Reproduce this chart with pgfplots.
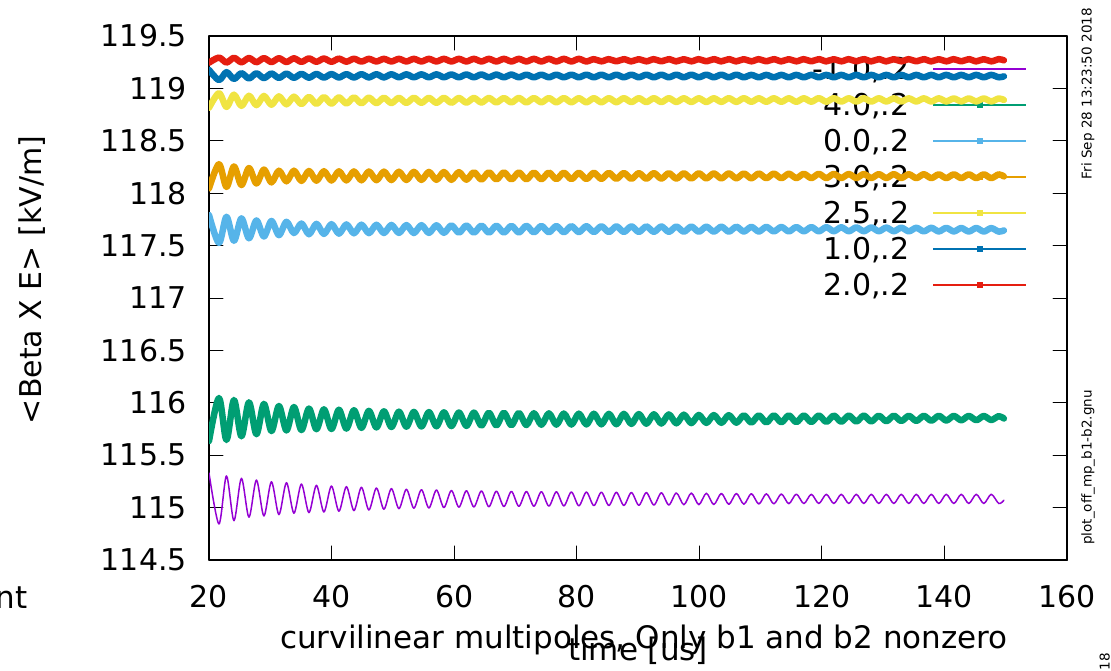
\documentclass[border=0pt]{standalone}
\usepackage{fontspec}
\setmainfont{DejaVu Sans}
\usepackage{pgfplots}
\usepackage{pgfplotstable}
\pgfplotsset{compat=1.18}
\definecolor{cA}{HTML}{9400D3}
\definecolor{cB}{HTML}{009E73}
\definecolor{cC}{HTML}{56B4E9}
\definecolor{cD}{HTML}{E69F00}
\definecolor{cE}{HTML}{F0E442}
\definecolor{cF}{HTML}{0072B2}
\definecolor{cG}{HTML}{E51E10}
\pgfplotstableread{
x pur grn lbl org yel blu red
20.00 115.330 115.635 117.792 118.045 118.815 119.177 119.245
21.62 114.844 116.046 117.525 118.277 118.954 119.080 119.294
22.85 115.302 115.645 117.775 118.060 118.824 119.155 119.247
24.07 114.875 116.027 117.546 118.255 118.940 119.090 119.292
25.29 115.280 115.680 117.760 118.078 118.833 119.145 119.249
26.52 114.908 116.005 117.570 118.240 118.930 119.095 119.290
27.74 115.263 115.700 117.740 118.093 118.840 119.144 119.250
28.96 114.920 115.990 117.587 118.225 118.928 119.098 119.289
30.19 115.247 115.730 117.735 118.103 118.844 119.142 119.251
31.41 114.933 115.970 117.600 118.215 118.924 119.100 119.288
32.64 115.238 115.736 117.727 118.113 118.848 119.141 119.252
33.86 114.946 115.960 117.620 118.215 118.921 119.101 119.287
35.08 115.225 115.740 117.711 118.117 118.850 119.139 119.253
36.31 114.952 115.945 117.608 118.212 118.919 119.102 119.286
37.53 115.213 115.748 117.708 118.119 118.852 119.138 119.254
38.75 114.958 115.938 117.611 118.210 118.917 119.103 119.285
39.98 115.206 115.750 117.705 118.121 118.854 119.137 119.254
41.20 114.965 115.934 117.614 118.209 118.915 119.104 119.284
42.42 115.200 115.754 117.702 118.122 118.856 119.136 119.255
43.65 114.971 115.929 117.617 118.208 118.914 119.104 119.283
44.87 115.194 115.761 117.700 118.123 118.858 119.136 119.256
46.09 114.977 115.923 117.619 118.207 118.912 119.105 119.282
47.32 115.187 115.765 117.699 118.124 118.859 119.135 119.257
48.54 114.984 115.919 117.620 118.206 118.911 119.105 119.282
49.76 115.181 115.769 117.697 118.125 118.860 119.135 119.257
50.99 114.990 115.915 117.621 118.205 118.910 119.106 119.282
52.21 115.175 115.772 117.696 118.126 118.861 119.134 119.257
53.43 114.994 115.913 117.620 118.204 118.911 119.106 119.282
54.66 115.171 115.774 117.695 118.127 118.862 119.134 119.257
55.88 114.996 115.911 117.621 118.203 118.910 119.106 119.282
57.11 115.168 115.776 117.694 118.128 118.862 119.134 119.257
58.33 115.000 115.909 117.622 118.202 118.910 119.106 119.282
59.55 115.163 115.778 117.693 118.128 118.863 119.133 119.257
60.78 115.004 115.907 117.623 118.201 118.909 119.106 119.282
62.00 115.161 115.780 117.692 118.129 118.864 119.133 119.257
63.22 115.006 115.906 117.623 118.200 118.909 119.106 119.282
64.45 115.159 115.783 117.691 118.130 118.865 119.133 119.257
65.67 115.008 115.904 117.623 118.200 118.909 119.106 119.282
66.89 115.157 115.785 117.690 118.131 118.866 119.132 119.257
68.12 115.010 115.904 117.624 118.199 118.908 119.106 119.282
69.34 115.155 115.786 117.689 118.131 118.866 119.132 119.257
70.56 115.012 115.902 117.625 118.198 118.909 119.106 119.282
71.79 115.154 115.788 117.689 118.132 118.866 119.131 119.257
73.01 115.013 115.901 117.626 118.197 118.908 119.106 119.282
74.23 115.152 115.790 117.688 118.133 118.867 119.131 119.257
75.46 115.014 115.900 117.627 118.197 118.908 119.106 119.282
76.68 115.151 115.791 117.687 118.134 118.867 119.131 119.257
77.90 115.016 115.898 117.627 118.196 118.908 119.106 119.282
79.13 115.149 115.792 117.686 118.134 118.867 119.131 119.257
80.35 115.017 115.897 117.628 118.195 118.907 119.106 119.282
81.58 115.148 115.793 117.686 118.135 118.867 119.131 119.257
82.80 115.019 115.896 117.629 118.195 118.907 119.106 119.279
84.02 115.147 115.794 117.685 118.136 118.867 119.131 119.258
85.25 115.020 115.895 117.629 118.194 118.907 119.106 119.279
86.47 115.146 115.795 117.684 118.137 118.868 119.131 119.258
87.69 115.021 115.895 117.630 118.193 118.907 119.106 119.279
88.92 115.144 115.798 117.684 118.137 118.869 119.131 119.258
90.14 115.022 115.893 117.630 118.192 118.907 119.106 119.279
91.36 115.143 115.800 117.683 118.138 118.869 119.131 119.258
92.59 115.024 115.891 117.631 118.192 118.907 119.106 119.279
93.81 115.141 115.802 117.683 118.139 118.869 119.131 119.258
95.03 115.025 115.889 117.631 118.191 118.907 119.106 119.279
96.26 115.140 115.804 117.682 118.139 118.870 119.131 119.258
97.48 115.027 115.887 117.632 118.190 118.906 119.106 119.279
98.70 115.139 115.806 117.682 118.140 118.870 119.131 119.258
99.93 115.028 115.884 117.632 118.190 118.906 119.106 119.279
101.15 115.137 115.808 117.681 118.141 118.870 119.131 119.258
102.37 115.029 115.883 117.633 118.189 118.906 119.106 119.279
103.60 115.136 115.809 117.681 118.141 118.871 119.131 119.258
104.82 115.031 115.882 117.633 118.189 118.907 119.106 119.279
106.05 115.135 115.810 117.680 118.142 118.871 119.131 119.258
107.27 115.032 115.881 117.634 118.188 118.907 119.106 119.279
108.49 115.133 115.811 117.679 118.142 118.872 119.129 119.258
109.72 115.034 115.880 117.634 118.188 118.906 119.106 119.279
110.94 115.132 115.812 117.679 118.143 118.872 119.129 119.258
112.16 115.035 115.880 117.635 118.187 118.906 119.106 119.279
113.39 115.130 115.814 117.678 118.143 118.872 119.129 119.258
114.61 115.037 115.880 117.635 118.186 118.906 119.106 119.279
115.83 115.129 115.815 117.677 118.144 118.872 119.129 119.258
117.06 115.038 115.879 117.636 118.185 118.906 119.106 119.279
118.28 115.127 115.816 117.677 118.144 118.873 119.129 119.258
119.50 115.039 115.879 117.636 118.185 118.907 119.106 119.279
120.73 115.127 115.818 117.676 118.144 118.873 119.129 119.258
121.95 115.039 115.878 117.637 118.184 118.907 119.106 119.279
123.17 115.127 115.819 117.675 118.145 118.874 119.129 119.258
124.40 115.039 115.878 117.637 118.183 118.906 119.106 119.279
125.62 115.127 115.821 117.674 118.145 118.874 119.129 119.258
126.84 115.039 115.878 117.637 118.183 118.906 119.106 119.279
128.07 115.127 115.822 117.673 118.145 118.874 119.129 119.258
129.29 115.039 115.877 117.637 118.182 118.906 119.106 119.279
130.52 115.127 115.824 117.672 118.145 118.875 119.129 119.258
131.74 115.039 115.877 117.637 118.182 118.905 119.106 119.279
132.96 115.127 115.826 117.671 118.145 118.875 119.129 119.258
134.19 115.039 115.876 117.636 118.181 118.905 119.106 119.279
135.41 115.127 115.827 117.670 118.144 118.875 119.129 119.258
136.63 115.039 115.876 117.636 118.181 118.905 119.106 119.279
137.86 115.127 115.829 117.670 118.144 118.875 119.129 119.258
139.08 115.039 115.876 117.635 118.180 118.905 119.106 119.279
140.30 115.127 115.831 117.669 118.144 118.876 119.129 119.258
141.53 115.039 115.875 117.635 118.180 118.904 119.106 119.279
142.75 115.127 115.833 117.668 118.144 118.876 119.129 119.258
143.97 115.039 115.875 117.634 118.180 118.904 119.106 119.279
145.20 115.127 115.834 117.668 118.144 118.876 119.129 119.258
146.42 115.039 115.874 117.634 118.180 118.904 119.106 119.279
147.64 115.127 115.836 117.667 118.144 118.876 119.129 119.258
148.87 115.039 115.873 117.633 118.180 118.904 119.106 119.279
149.70 115.070 115.850 117.645 118.160 118.890 119.115 119.268
}\data
\newcommand{\bigf}{\fontsize{30}{36}\selectfont}
\newcommand{\labf}{\fontsize{31}{37}\selectfont}
\newcommand{\smallf}{\fontsize{13.5}{16}\selectfont}
\begin{document}
\begin{tikzpicture}
\useasboundingbox (0,0) rectangle (1111pt,670pt);
% legend (drawn first so that the data lies over it)
\begin{axis}[at={(209pt,110pt)}, anchor=south west, scale only axis,
  width=858pt, height=524pt, xmin=20, xmax=160, ymin=114.5, ymax=119.5,
  hide axis, legend cell align=right, legend plot pos=right,
  legend style={draw=none, fill=none, at={(0.9534,0.9656)}, anchor=north east,
    inner sep=0pt, outer sep=0pt, font=\bigf,
    nodes={inner sep=0pt, text height=25pt, text depth=5pt},
    row sep=6pt, column sep=23pt},
  legend image code/.code={\draw[mark repeat=2,mark phase=2,#1] plot coordinates {(0pt,0pt) (46.5pt,0pt) (93pt,0pt)};}]
\addlegendimage{cA, line width=1.5pt, mark=none}
\addlegendentry{-1.0,.2}
\addlegendimage{cB, line width=1.5pt, mark=square*, mark size=2.5pt}
\addlegendentry{4.0,.2}
\addlegendimage{cC, line width=1.5pt, mark=square*, mark size=2.5pt}
\addlegendentry{0.0,.2}
\addlegendimage{cD, line width=1.5pt, mark=square*, mark size=2.5pt}
\addlegendentry{3.0,.2}
\addlegendimage{cE, line width=1.5pt, mark=square*, mark size=2.5pt}
\addlegendentry{2.5,.2}
\addlegendimage{cF, line width=1.5pt, mark=square*, mark size=2.5pt}
\addlegendentry{1.0,.2}
\addlegendimage{cG, line width=1.5pt, mark=square*, mark size=2.5pt}
\addlegendentry{2.0,.2}
\end{axis}
\begin{axis}[at={(209pt,110pt)}, anchor=south west, scale only axis,
  width=858pt, height=524pt, xmin=20, xmax=160, ymin=114.5, ymax=119.5,
  xtick={20,40,60,80,100,120,140,160},
  ytick={114.5,115,115.5,116,116.5,117,117.5,118,118.5,119,119.5},
  scaled y ticks=false, scaled x ticks=false,
  /pgf/number format/assume math mode=true,
  tick align=inside, major tick length=14pt,
  axis line style={line width=1.2pt, black},
  every tick/.style={black, line width=1pt},
  tick label style={font=\bigf},
  yticklabel style={inner sep=0pt, anchor=east, xshift=-22pt},
  xticklabel style={inner sep=0pt, anchor=north, yshift=-25pt},
  line join=round, line cap=round]
\addplot[cA, line width=1.5pt, smooth, mark=none] table[x=x, y=pur] {\data};
\addplot[cB, line width=6.5pt, smooth, mark=none] table[x=x, y=grn] {\data};
\addplot[cC, line width=6.5pt, smooth, mark=none] table[x=x, y=lbl] {\data};
\addplot[cD, line width=6.5pt, smooth, mark=none] table[x=x, y=org] {\data};
\addplot[cE, line width=6.5pt, smooth, mark=none] table[x=x, y=yel] {\data};
\addplot[cF, line width=6.5pt, smooth, mark=none] table[x=x, y=blu] {\data};
\addplot[cG, line width=6.5pt, smooth, mark=none] table[x=x, y=red] {\data};
\end{axis}
\node[rotate=90, font=\bigf, inner sep=0pt] at (32pt,390pt) {<Beta X E> [kV/m]};
\node[anchor=base, font=\labf, inner sep=0pt] at (644pt,22pt) {curvilinear multipoles, Only b1 and b2 nonzero};
\node[anchor=base, font=\labf, inner sep=0pt] at (638pt,10pt) {time [us]};
\node[anchor=base east, font=\labf, inner sep=0pt] at (28pt,62pt) {nt};
\node[rotate=90, anchor=east, font=\smallf, inner sep=0pt] at (1088pt,662pt) {Fri Sep 28 13:23:50 2018};
\node[rotate=90, anchor=east, font=\smallf, inner sep=0pt] at (1088pt,280pt) {plot\_off\_mp\_b1-b2.gnu};
\node[rotate=90, anchor=east, font=\smallf, inner sep=0pt] at (1106pt,17pt) {Fri Sep 28 13:23:50 2018};
\end{tikzpicture}
\end{document}
